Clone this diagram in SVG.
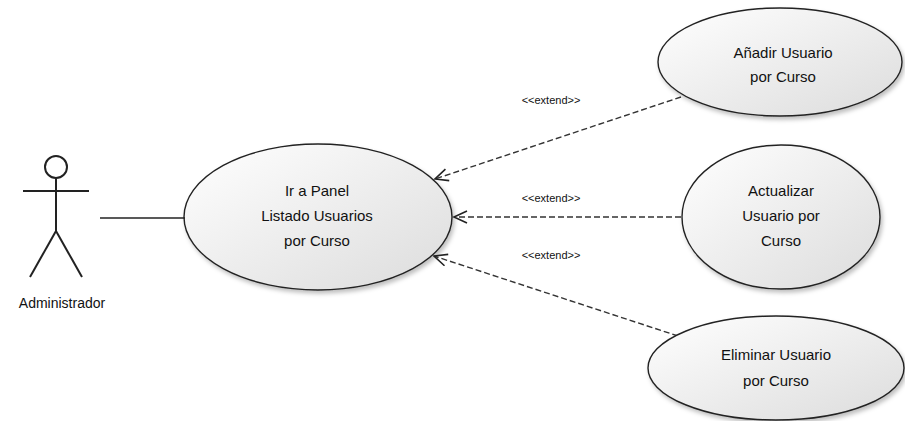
<svg xmlns="http://www.w3.org/2000/svg" width="905" height="421" viewBox="0 0 905 421">
<defs>
<linearGradient id="g" x1="0" y1="0" x2="1" y2="1">
<stop offset="0" stop-color="#ffffff"/>
<stop offset="1" stop-color="#dcdcdc"/>
</linearGradient>
<filter id="sh" x="-10%" y="-10%" width="130%" height="130%">
<feDropShadow dx="2" dy="3" stdDeviation="2" flood-color="#000" flood-opacity="0.25"/>
</filter>
<marker id="arr" markerWidth="16" markerHeight="14" refX="14" refY="7" orient="auto" markerUnits="userSpaceOnUse">
<path d="M1,1 L14,7 L1,13" fill="none" stroke="#222" stroke-width="1.6"/>
</marker>
<style>
.uc{fill:url(#g);stroke:#222;stroke-width:1.4;filter:url(#sh)}
.t{font-family:"Liberation Sans",Arial,sans-serif;font-size:15px;fill:#111;text-anchor:middle}
.ext{font-family:"Liberation Sans",Arial,sans-serif;font-size:11px;fill:#111;text-anchor:middle}
.dash{fill:none;stroke:#333;stroke-width:1.4;stroke-dasharray:6,3}
.actor{fill:none;stroke:#222;stroke-width:2}
</style>
</defs>
<rect width="905" height="421" fill="#ffffff"/>
<g id="uc-main">
<ellipse class="uc" cx="318" cy="217" rx="134" ry="73"/>
<text class="t" x="317" y="196">Ir a Panel</text>
<text class="t" x="317" y="221">Listado Usuarios</text>
<text class="t" x="317" y="246">por Curso</text>
</g>
<g id="connectors">
<line x1="100" y1="218" x2="185" y2="218" stroke="#222" stroke-width="1.6"/>
<line class="dash" x1="681" y1="97" x2="435" y2="179" marker-end="url(#arr)"/>
<line class="dash" x1="681" y1="217" x2="454" y2="217" marker-end="url(#arr)"/>
<line class="dash" x1="678" y1="336" x2="434" y2="256" marker-end="url(#arr)"/>
<text class="ext" x="551" y="104">&lt;&lt;extend&gt;&gt;</text>
<text class="ext" x="551" y="202">&lt;&lt;extend&gt;&gt;</text>
<text class="ext" x="551" y="259">&lt;&lt;extend&gt;&gt;</text>
</g>
<g id="actor">
<circle class="actor" cx="56" cy="167" r="11"/>
<line class="actor" x1="56" y1="178" x2="56" y2="231"/>
<line class="actor" x1="23" y1="191" x2="89" y2="191"/>
<line class="actor" x1="56" y1="231" x2="30" y2="277"/>
<line class="actor" x1="56" y1="231" x2="82" y2="277"/>
<text class="t" x="62" y="308" style="font-size:14px">Administrador</text>
</g>
<g id="uc-add">
<ellipse class="uc" cx="780" cy="62" rx="122" ry="54"/>
<text class="t" x="783" y="58">Añadir Usuario</text>
<text class="t" x="783" y="82">por Curso</text>
</g>
<g id="uc-update">
<ellipse class="uc" cx="781" cy="217" rx="99" ry="72"/>
<text class="t" x="781" y="196">Actualizar</text>
<text class="t" x="781" y="221">Usuario por</text>
<text class="t" x="781" y="246">Curso</text>
</g>
<g id="uc-delete">
<ellipse class="uc" cx="776" cy="368" rx="128" ry="52"/>
<text class="t" x="776" y="360">Eliminar Usuario</text>
<text class="t" x="776" y="386">por Curso</text>
</g>
</svg>
